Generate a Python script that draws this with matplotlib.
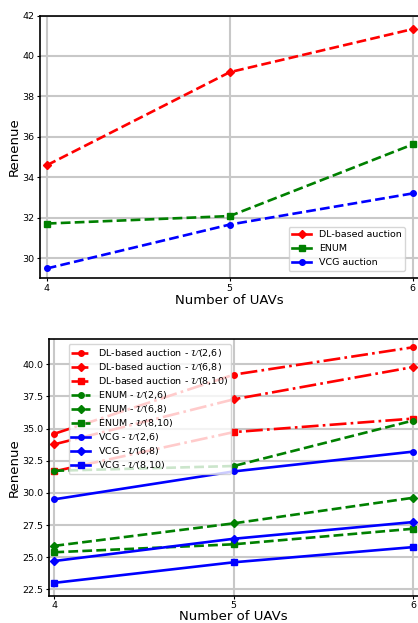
import matplotlib
matplotlib.use("Agg")
import matplotlib.pyplot as plt
from matplotlib.lines import Line2D
import numpy as np

# データ
uavs = [4, 5, 6]

# 上の図
dl_top = [34.6, 39.2, 41.33]
enum_top = [31.72, 32.09, 35.63]
vcg_top = [29.5, 31.67, 33.21]

# 下の図 (U(2,6), U(6,8), U(8,10))
ranges = ["(2,6)", "(6,8)", "(8,10)"]
dl_bot = [[34.6, 39.2, 41.33],
          [33.78, 37.28, 39.79],
          [31.68, 34.73, 35.78]]
enum_bot = [[31.72, 32.09, 35.63],
            [25.88, 27.63, 29.62],
            [25.38, 26.0, 27.21]]
vcg_bot = [[29.5, 31.67, 33.21],
           [24.7, 26.43, 27.73],
           [23.0, 24.6, 25.78]]

W, H = 418, 623
fig = plt.figure(figsize=(W / 100, H / 100), dpi=100)

def style(ax, xpad=1):
    ax.grid(color="#c8c8c8", linewidth=1.5)
    ax.set_axisbelow(True)
    ax.set_xticks(uavs)
    ax.tick_params(labelsize=6.8, length=2.5, pad=1.5)
    ax.set_xlabel("Number of UAVs", fontsize=9.5, labelpad=xpad)
    ax.set_ylabel("Renenue", fontsize=9.5, labelpad=1)
    for s in ax.spines.values():
        s.set_linewidth(1.2)

# 上の図
ax1 = fig.add_axes([40 / W, 1 - 278 / H, 379.5 / W, (278 - 15.5) / H])
ax1.plot(uavs, dl_top, "--", color="red", marker="D", markersize=4, lw=1.9)
ax1.plot(uavs, enum_top, "--", color="green", marker="s", markersize=4, lw=1.9)
ax1.plot(uavs, vcg_top, "--", color="blue", marker="o", markersize=4, lw=1.9)
ax1.set_xlim(3.963, 6.037)
ax1.set_ylim(29.03, 42)
ax1.set_yticks(np.arange(30, 43, 2))
style(ax1)
handles = [Line2D([], [], color="red", marker="D", markersize=4, lw=1.9),
           Line2D([], [], color="green", marker="s", markersize=4, lw=1.9),
           Line2D([], [], color="blue", marker="o", markersize=4, lw=1.9)]
ax1.legend(handles, ["DL-based auction", "ENUM", "VCG auction"],
           loc="lower right", bbox_to_anchor=(0.975, 0.01), fontsize=6.8)

# 下の図
ax2 = fig.add_axes([49 / W, 1 - 595.7 / H, 369.5 / W, (595.7 - 339.3) / H])
markers = ["o", "D", "s"]
for i in range(3):
    ax2.plot(uavs, dl_bot[i], "-.", color="red", marker=markers[i], markersize=4, lw=1.9,
             label="DL-based auction - $\\mathcal{U}$" + ranges[i])
for i in range(3):
    ax2.plot(uavs, enum_bot[i], "--", color="green", marker=markers[i], markersize=4, lw=1.9,
             label="ENUM - $\\mathcal{U}$" + ranges[i])
for i in range(3):
    ax2.plot(uavs, vcg_bot[i], "-", color="blue", marker=markers[i], markersize=4, lw=1.9,
             label="VCG - $\\mathcal{U}$" + ranges[i])
ax2.set_xlim(3.97, 6.03)
ax2.set_ylim(22.0, 41.95)
ax2.set_yticks(np.arange(22.5, 41, 2.5))
style(ax2, xpad=0)
ax2.legend(loc="upper left", bbox_to_anchor=(0.04, 1.0), fontsize=6.8,
           labelspacing=0.22, borderpad=0.3)

plt.savefig("out.png", dpi=100)
